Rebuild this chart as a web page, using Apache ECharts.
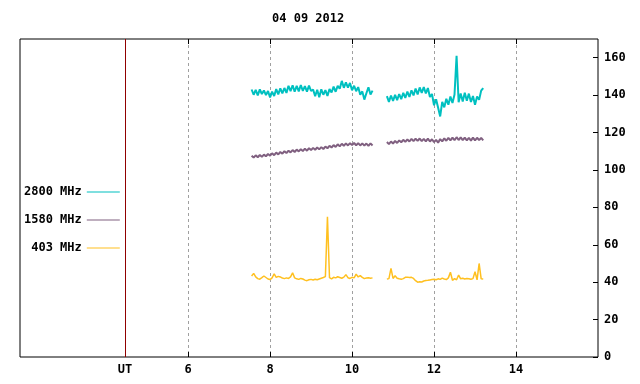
<!DOCTYPE html>
<html>
<head>
<meta charset="utf-8">
<script src="https://cdn.jsdelivr.net/npm/echarts@6/dist/echarts.min.js"></script>
<style>
  html, body { margin: 0; padding: 0; background: #fff; }
  #chart { width: 640px; height: 384px; }
</style>
</head>
<body>
<div id="chart"></div>
<script>
// sampling of both recording segments (hours UT)
const seg1Start = 7.55;
const seg2Start = 10.85;
const step = 0.05;

const f2800a = [143.0, 140.2, 142.8, 139.9, 143.1, 140.6, 142.5, 140.0, 142.2, 138.7,
  141.9, 139.5, 143.2, 140.4, 143.6, 140.9, 143.8, 141.2, 145.0, 142.1,
  145.3, 141.8, 144.9, 142.0, 145.4, 142.3, 144.8, 141.9, 145.1, 142.2,
  143.0, 139.4, 142.9, 138.8, 143.1, 140.2, 142.7, 139.6, 143.2, 141.4,
  144.5, 141.8, 144.9, 143.4, 147.6, 143.9, 146.8, 144.0, 146.5, 142.6,
  145.0, 142.1, 144.3, 140.2, 142.0, 137.6, 141.0, 144.2, 140.3, 142.4];
const f2800b = [139.5, 136.4, 139.8, 136.9, 140.1, 137.3, 140.6, 137.8, 141.2, 138.5,
  141.9, 139.0, 142.6, 139.8, 143.5, 140.4, 144.1, 141.2, 144.3, 140.9,
  143.8, 139.0, 140.6, 134.6, 137.8, 133.2, 128.6, 136.4, 133.5, 138.0,
  134.9, 139.2, 135.8, 140.3, 161.0, 136.2, 140.9, 136.6, 141.3, 137.0,
  140.8, 136.3, 139.5, 134.9, 139.2, 137.5, 142.4, 143.8];

const f1580a = [107.6, 106.6, 107.8, 106.8, 108.0, 107.0, 108.2, 107.3, 108.5, 107.6,
  108.9, 107.9, 109.3, 108.3, 109.6, 108.7, 110.0, 109.0, 110.3, 109.4,
  110.6, 109.6, 110.9, 109.9, 111.1, 110.1, 111.4, 110.3, 111.6, 110.6,
  111.8, 110.8, 112.0, 111.0, 112.2, 111.2, 112.5, 111.6, 112.9, 112.0,
  113.3, 112.3, 113.7, 112.6, 114.0, 112.9, 114.2, 113.1, 114.3, 113.3,
  114.4, 113.2, 114.3, 113.1, 114.2, 113.0, 114.1, 112.9, 114.2, 113.1];
const f1580b = [114.9, 113.8, 115.2, 114.1, 115.5, 114.4, 115.8, 114.8, 116.1, 115.0,
  116.3, 115.2, 116.6, 115.4, 116.7, 115.5, 116.8, 115.4, 116.6, 115.3,
  116.7, 115.2, 116.4, 114.9, 116.1, 114.6, 116.5, 115.3, 116.9, 115.6,
  117.1, 115.8, 117.3, 115.9, 117.5, 116.0, 117.4, 115.9, 117.3, 115.8,
  117.2, 115.7, 117.3, 115.8, 117.2, 115.9, 117.1, 115.8];

const f403a = [43.3, 44.7, 42.8, 41.9, 41.6, 42.4, 43.3, 42.5, 41.7, 41.4,
  42.3, 44.5, 42.6, 43.1, 42.8, 42.2, 41.9, 42.3, 42.0, 42.8,
  45.0, 42.3, 41.8, 41.5, 42.0, 41.7, 41.1, 40.8, 41.3, 41.5,
  41.2, 41.6, 41.3, 41.7, 42.1, 42.5, 43.0, 75.0, 42.4, 41.8,
  42.6, 42.3, 42.9, 42.5, 42.1, 42.7, 44.0, 42.4, 42.0, 42.6,
  42.3, 44.3, 42.8, 43.5, 42.6, 41.9, 42.2, 42.4, 42.1, 42.3];
const f403b = [41.7, 41.9, 47.4, 42.0, 43.4, 42.1, 41.8, 41.6, 41.9, 42.6,
  42.7, 42.5, 42.6, 42.0, 40.8, 40.0, 40.2, 40.1, 40.6, 40.9,
  41.0, 41.2, 41.4, 41.6, 41.3, 41.8, 41.5, 42.2, 41.7, 41.4,
  42.3, 45.3, 41.0, 41.9, 41.3, 43.8, 41.8, 42.1, 41.7, 42.0,
  41.8, 41.6, 41.9, 45.6, 41.2, 50.0, 41.8, 41.7];

const hourTicks = [6, 8, 10, 12, 14];
const utMark = 4.46;
const fluxTicks = [0, 20, 40, 60, 80, 100, 120, 140, 160];

const font = 'DejaVu Sans Mono';

function toPoints(a, b) {
  const pts = a.map((v, i) => [seg1Start + i * step, v]);
  pts.push([(seg1Start + a.length * step + seg2Start) / 2, '-']);
  b.forEach((v, i) => pts.push([seg2Start + i * step, v]));
  return pts;
}

function lineSeries(name, color, width, a, b) {
  return {
    name: name,
    type: 'line',
    data: toPoints(a, b),
    showSymbol: false,
    symbol: 'none',
    color: color,
    lineStyle: { width: width, color: color },
    connectNulls: false,
    animation: false,
  };
}

const chart = echarts.init(document.getElementById('chart'), null, { renderer: 'canvas' });

const series = [
  lineSeries('2800 MHz', '#00c0c0', 2, f2800a, f2800b),
  lineSeries('1580 MHz', '#806080', 2, f1580a, f1580b),
  lineSeries('403 MHz', '#ffc020', 1.5, f403a, f403b),
];
series[0].markLine = {
  silent: true,
  symbol: 'none',
  animation: false,
  label: { show: false },
  lineStyle: { color: '#900000', type: 'solid', width: 1 },
  data: [{ xAxis: utMark }],
};

const option = {
  animation: false,
  title: {
    text: '04 09 2012',
    left: 267,
    top: 8,
    textStyle: { fontFamily: font, fontSize: 12, fontWeight: 'bold', color: '#000' },
  },
  legend: {
    orient: 'vertical',
    left: 19,
    top: 181,
    align: 'right',
    icon: 'rect',
    itemWidth: 33,
    itemHeight: 1,
    itemGap: 16,
    textStyle: { fontFamily: font, fontSize: 12, fontWeight: 'bold', color: '#000' },
    data: ['2800 MHz', '1580 MHz', '403 MHz'],
  },
  grid: {
    left: 20,
    right: 42,
    top: 39,
    bottom: 27,
    show: true,
    borderColor: '#000',
    borderWidth: 1,
  },
  xAxis: [
    {
      type: 'value',
      min: 1.9,
      max: 16,
      axisLine: { show: false },
      axisTick: {
        inside: true,
        length: 5,
        customValues: hourTicks,
        lineStyle: { color: '#000' },
      },
      axisLabel: {
        customValues: [utMark].concat(hourTicks),
        formatter: (v) => (v === utMark ? 'UT' : String(v)),
        margin: 7,
        fontFamily: font,
        fontSize: 12,
        fontWeight: 'bold',
        color: '#000',
      },
      splitLine: {
        show: true,
        lineStyle: { color: '#a0a0a0', type: [3, 3], width: 1 },
      },
    },
    {
      type: 'value',
      position: 'top',
      min: 1.9,
      max: 16,
      axisLine: { show: false },
      axisTick: {
        inside: true,
        length: 5,
        customValues: hourTicks,
        lineStyle: { color: '#000' },
      },
      axisLabel: { show: false },
      splitLine: { show: false },
    },
  ],
  yAxis: {
    type: 'value',
    position: 'right',
    min: 0,
    max: 170,
    axisLine: { show: false },
    axisTick: {
      inside: true,
      length: 5,
      customValues: fluxTicks,
      lineStyle: { color: '#000' },
    },
    axisLabel: {
      customValues: fluxTicks,
      margin: 6,
      fontFamily: font,
      fontSize: 12,
      fontWeight: 'bold',
      color: '#000',
    },
    splitLine: { show: false },
  },
  series: series,
};

chart.setOption(option);
</script>
</body>
</html>
